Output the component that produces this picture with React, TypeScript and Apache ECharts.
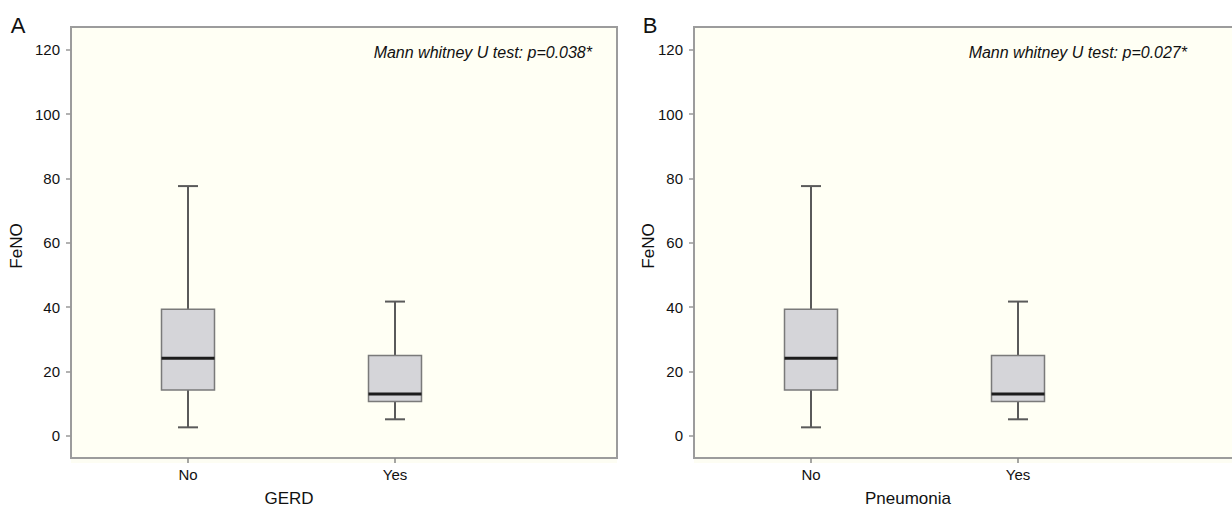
import React, { useEffect, useRef } from "react";
import * as echarts from "echarts";

const categories = ["No", "Yes"];
const yTicks = [0, 20, 40, 60, 80, 100, 120];
// [min, Q1, median, Q3, max]
const gerdNo = [2.6, 14.2, 24.1, 39.3, 77.6];
const gerdYes = [5.1, 10.6, 13.0, 24.9, 41.7];
const pneuNo = [2.6, 14.2, 24.1, 39.3, 77.6];
const pneuYes = [5.1, 10.6, 13.0, 24.9, 41.7];
const panelLetters = ["A", "B"];
const xTitles = ["GERD", "Pneumonia"];
const yTitle = "FeNO";
const pTexts = ["Mann whitney U test: p=0.038*", "Mann whitney U test: p=0.027*"];

const FONT = "'Liberation Sans', Arial, sans-serif";

export default function App() {
  const ref = useRef<HTMLDivElement>(null);
  useEffect(() => {
    document.body.style.margin = "0";
    const chart = echarts.init(ref.current!, null, { renderer: "svg" });
    const panels = [
      { dx: 0, data: [gerdNo, gerdYes], annoX: 592, yTitleX: 16, letterX: 18, xTitleX: 289 },
      { dx: 623, data: [pneuNo, pneuYes], annoX: 1187, yTitleX: 648, letterX: 650, xTitleX: 908 },
    ];
    const grids: any[] = [];
    const xAxes: any[] = [];
    const yAxes: any[] = [];
    const series: any[] = [];
    const graphics: any[] = [];
    panels.forEach((p, i) => {
      const gPlot = grids.length;
      // plot grid: y 0..120
      grids.push({ left: 84.5 + p.dx, top: 49.7, width: 414, height: 386 });
      // frame grid: bottom edge of frame carries the category axis
      grids.push({ left: 84.5 + p.dx, top: 27, width: 414, height: 431 });
      xAxes.push({
        type: "category",
        gridIndex: gPlot,
        data: categories,
        show: false,
      });
      xAxes.push({
        type: "category",
        gridIndex: gPlot + 1,
        data: categories,
        axisLine: { show: false },
        axisTick: { show: true, alignWithLabel: true, length: 5, lineStyle: { color: "#888", width: 1.5 } },
        axisLabel: { color: "#111", fontSize: 15, fontFamily: FONT, margin: 9 },
        splitLine: { show: false },
      });
      yAxes.push({
        type: "value",
        gridIndex: gPlot,
        min: 0,
        max: 120,
        interval: 20,
        offset: 13.5,
        axisLine: { show: false },
        axisTick: { show: true, length: 5, lineStyle: { color: "#999", width: 1.5 } },
        axisLabel: { color: "#111", fontSize: 15, fontFamily: FONT, margin: 11, formatter: (v: number) => (yTicks.includes(v) ? String(v) : "") },
        splitLine: { show: false },
      });
      yAxes.push({
        type: "value",
        gridIndex: gPlot + 1,
        min: 0,
        max: 1,
        show: false,
      });
      series.push({
        type: "custom",
        xAxisIndex: gPlot,
        yAxisIndex: gPlot,
        z: 10,
        data: p.data.map((d, k) => [k, ...d]),
        renderItem: (params: any, api: any) => {
          const x = api.value(0);
          const pts = [1, 2, 3, 4, 5].map((j) => api.coord([x, api.value(j)]));
          const cx = pts[0][0];
          const bw = 53;
          const cap = 20;
          const [pMin, pQ1, pMed, pQ3, pMax] = pts;
          const wStyle = { stroke: "#5a5a5a", lineWidth: 2 };
          return {
            type: "group",
            children: [
              { type: "line", shape: { x1: cx, y1: pQ3[1], x2: cx, y2: pMax[1] }, style: wStyle },
              { type: "line", shape: { x1: cx, y1: pQ1[1], x2: cx, y2: pMin[1] }, style: wStyle },
              { type: "line", shape: { x1: cx - cap / 2, y1: pMax[1], x2: cx + cap / 2, y2: pMax[1] }, style: wStyle },
              { type: "line", shape: { x1: cx - cap / 2, y1: pMin[1], x2: cx + cap / 2, y2: pMin[1] }, style: wStyle },
              {
                type: "rect",
                shape: { x: cx - bw / 2, y: pQ3[1], width: bw, height: pQ1[1] - pQ3[1] },
                style: { fill: "#d5d5d9", stroke: "#7a7a7a", lineWidth: 1.5 },
              },
              { type: "line", shape: { x1: cx - bw / 2, y1: pMed[1], x2: cx + bw / 2, y2: pMed[1] }, style: { stroke: "#1c1c1c", lineWidth: 3 } },
            ],
          };
        },
      });
      graphics.push(
        { type: "rect", z: -20, shape: { x: 71 + p.dx, y: 27, width: 546, height: 436 }, style: { fill: "#fdfdf3" } },
        { type: "rect", z: -10, shape: { x: 71 + p.dx, y: 27, width: 546, height: 431 }, style: { fill: "#fffff4", stroke: "#9c9c9c", lineWidth: 2 } },
        { type: "text", x: p.letterX, y: 25, style: { text: panelLetters[i], font: `22px ${FONT}`, fill: "#111", align: "center", verticalAlign: "middle" } },
        { type: "text", x: p.annoX, y: 52, style: { text: pTexts[i], font: `italic 16px ${FONT}`, fill: "#111", align: "right", verticalAlign: "middle" } },
        { type: "text", x: p.xTitleX, y: 498, style: { text: xTitles[i], font: `17px ${FONT}`, fill: "#111", align: "center", verticalAlign: "middle" } },
        { type: "text", x: p.yTitleX, y: 246, rotation: Math.PI / 2, style: { text: yTitle, font: `17px ${FONT}`, fill: "#111", align: "center", verticalAlign: "middle" } }
      );
    });
    chart.setOption({
      animation: false,
      backgroundColor: "#ffffff",
      grid: grids,
      xAxis: xAxes,
      yAxis: yAxes,
      series,
      graphic: { elements: graphics },
    });
    return () => chart.dispose();
  }, []);
  return <div ref={ref} style={{ width: 1232, height: 509 }} />;
}
